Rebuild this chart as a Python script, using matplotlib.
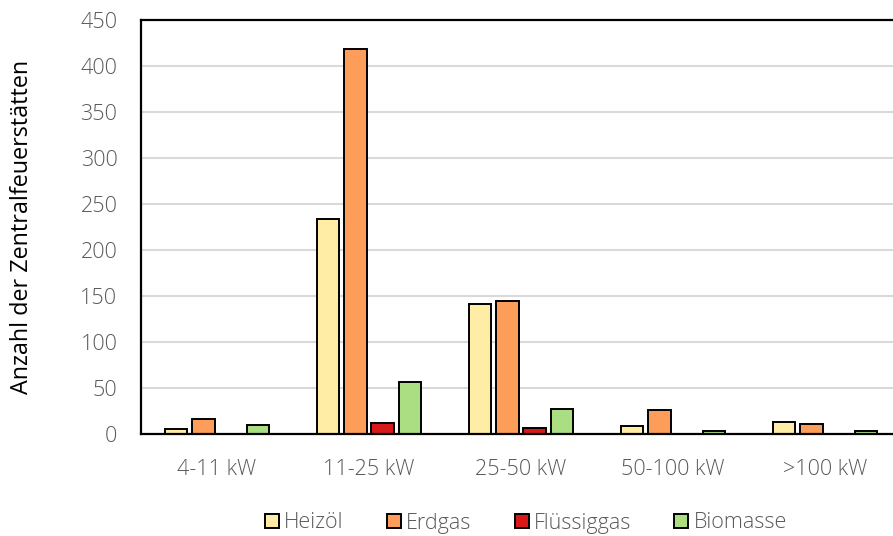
import matplotlib
matplotlib.use("Agg")
import matplotlib.pyplot as plt
import numpy as np

categories = ["4-11 kW", "11-25 kW", "25-50 kW", "50-100 kW", ">100 kW"]
series_names = ["Heizöl", "Erdgas", "Flüssiggas", "Biomasse"]
heizoel = [5, 234, 141, 9, 13]
erdgas = [16, 419, 145, 26, 11]
fluessiggas = [0, 12, 7, 0, 0]
biomasse = [10, 57, 27, 3, 3]
colors = ["#FFEDA6", "#FC9D5A", "#D7191C", "#ABDD82"]

plt.rcParams["font.family"] = ["Open Sans", "DejaVu Sans"]

fig = plt.figure(figsize=(8.93, 5.36), dpi=100)
ax = fig.add_axes([141 / 893, 1 - 434 / 536, 760 / 893, 414 / 536])

x = np.arange(len(categories))
step = 0.18
width = 0.148
values = [heizoel, erdgas, fluessiggas, biomasse]
handles = []
for i, (vals, name, col) in enumerate(zip(values, series_names, colors)):
    offs = (i - 1.5) * step
    vals = np.array(vals, dtype=float)
    # zero entries are not drawn as bars
    mask = vals > 0
    b = ax.bar(x[mask] + offs, vals[mask], width, color=col, edgecolor="black",
               linewidth=1.4, zorder=3, label=name)
    handles.append(b)

ax.set_xlim(-0.5, len(categories) - 0.5)
ax.set_ylim(0, 450)
ax.set_yticks(np.arange(0, 451, 50))
ax.set_xticks(x)
ax.set_xticklabels(categories)
ax.yaxis.grid(True, color="#D9D9D9", linewidth=1.5, zorder=0)
ax.set_axisbelow(True)
for s in ["left", "top", "bottom", "right"]:
    ax.spines[s].set_color("black")
    ax.spines[s].set_linewidth(1.6)
ax.spines["bottom"].set_zorder(4)
ax.tick_params(axis="both", length=0, colors="#595959", labelsize=15.5)
ax.tick_params(axis="y", pad=17)
ax.tick_params(axis="x", pad=18)
for lbl in ax.get_xticklabels() + ax.get_yticklabels():
    lbl.set_fontweight("light")

ax.set_ylabel("Anzahl der Zentralfeuerstätten", fontsize=16.8, color="black")
ax.yaxis.set_label_coords(-0.141, 0.5)

leg = fig.legend(handles=handles, labels=series_names, loc="center",
                 bbox_to_anchor=(526 / 893, 1 - 523 / 536), ncol=4, frameon=False,
                 fontsize=15.5, handlelength=0.65, handleheight=0.65,
                 handletextpad=0.25, columnspacing=2.0)
for t in leg.get_texts():
    t.set_color("#595959")
    t.set_fontweight("light")

fig.savefig("out.png", dpi=100)
